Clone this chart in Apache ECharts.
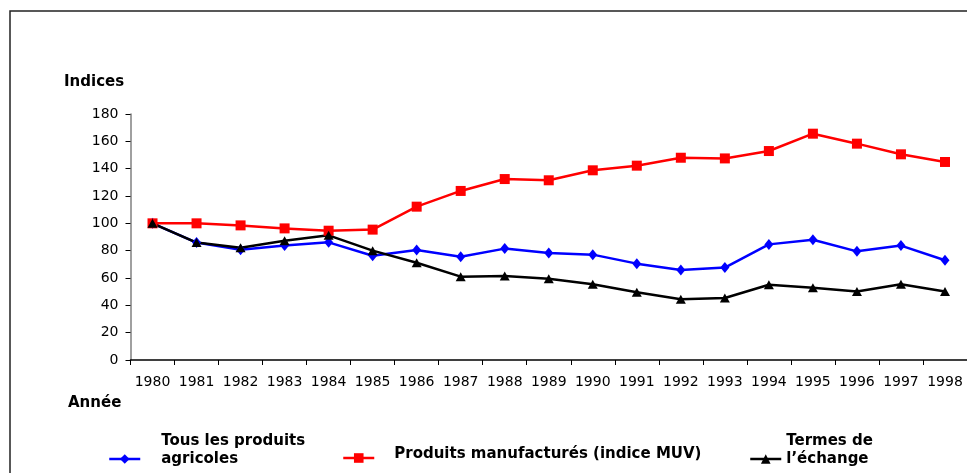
<!DOCTYPE html>
<html>
<head>
<meta charset="utf-8">
<script src="https://cdn.jsdelivr.net/npm/echarts@6/dist/echarts.min.js"></script>
<style>
    html, body { margin: 0; padding: 0; background: #fff; }
    #chart { width: 967px; height: 473px; }
</style>
</head>
<body>
<div id="chart"></div>
<script>
// années (axe des x)
var annees = ['1980','1981','1982','1983','1984','1985','1986','1987','1988','1989',
              '1990','1991','1992','1993','1994','1995','1996','1997','1998'];
// Tous les produits agricoles
var agricoles = [100, 85.9, 80.7, 83.7, 86.1, 76.3, 80.5, 75.6, 81.5, 78.3,
                 77.1, 70.5, 65.9, 67.6, 84.6, 88, 79.5, 83.7, 73];
// Produits manufacturés (indice MUV)
var manufactures = [100, 100, 98.5, 96.3, 94.6, 95.4, 112.2, 123.7, 132.4, 131.5,
                    138.8, 142.2, 148, 147.5, 152.9, 165.6, 158.3, 150.5, 144.9];
// Termes de l'échange
var termes = [100, 85.9, 82.2, 87.3, 91.2, 80, 71.2, 61, 61.5, 59.5,
              55.4, 49.5, 44.4, 45.4, 55.1, 52.9, 50.2, 55.4, 50.2];

var nomAgri = 'Tous les produits agricoles';
var nomManu = 'Produits manufacturés (indice MUV)';
var nomTermes = 'Termes de l\u2019échange';

var police = 'DejaVu Sans';

function texteLegende(gauche) {
    return {
        fontFamily: police, fontWeight: 'bold', fontSize: 15, color: '#000', lineHeight: 18,
        padding: [0, 0, 0, gauche],
        rich: {
            t: { fontFamily: police, fontWeight: 'bold', fontSize: 15, color: '#000', lineHeight: 18 },
            s: { fontSize: 1, lineHeight: 8 }
        }
    };
}

var myChart = echarts.init(document.getElementById('chart'));
myChart.setOption({
    animation: false,
    backgroundColor: '#fff',
    title: [
        { text: 'Indices', left: 64, top: 75, padding: 0,
          textStyle: { fontFamily: police, fontWeight: 'bold', fontSize: 15, color: '#000' } },
        { text: 'Année', left: 68, top: 396, padding: 0,
          textStyle: { fontFamily: police, fontWeight: 'bold', fontSize: 15, color: '#000' } }
    ],
    // cadre
    graphic: [{
        type: 'rect',
        shape: { x: 10, y: 11, width: 1000, height: 500 },
        style: { fill: 'none', stroke: '#222', lineWidth: 1.5 },
        silent: true
    }],
    legend: [
        { data: [nomAgri], left: 108, top: 432, padding: 0, itemWidth: 31, itemHeight: 12,
          lineStyle: { width: 2.5 },
          formatter: function () { return 'Tous les produits\nagricoles\n '; },
          textStyle: texteLegende(16) },
        { data: [nomManu], left: 342, top: 445, padding: 0, itemWidth: 31, itemHeight: 12,
          lineStyle: { width: 2.5 },
          formatter: function (n) { return '{t|' + n + '}\n{s| }'; },
          textStyle: texteLegende(15) },
        { data: [nomTermes], left: 749, top: 432, padding: 0, itemWidth: 31, itemHeight: 12,
          lineStyle: { width: 2.5 },
          formatter: function () { return 'Termes de\nl\u2019échange\n '; },
          textStyle: texteLegende(0) }
    ],
    grid: { left: 130.5, right: -2, top: 114, bottom: 113, containLabel: false },
    xAxis: {
        type: 'category',
        data: annees,
        boundaryGap: true,
        axisLine: { lineStyle: { color: '#000', width: 1.5 } },
        axisTick: { show: true, length: 5, alignWithLabel: false, lineStyle: { color: '#000' } },
        axisLabel: { interval: 0, margin: 15, fontFamily: police, fontSize: 14, color: '#000' },
        splitLine: { show: false }
    },
    yAxis: {
        type: 'value',
        min: 0,
        max: 180,
        interval: 20,
        axisLine: { show: true, lineStyle: { color: '#808080', width: 1.5 } },
        axisTick: { show: true, length: 5, lineStyle: { color: '#000' } },
        axisLabel: { margin: 12, fontFamily: police, fontSize: 14, color: '#000' },
        splitLine: { show: false }
    },
    series: [
        {
            name: nomAgri, type: 'line', data: agricoles,
            symbol: 'diamond', symbolSize: [9, 11],
            lineStyle: { color: '#0000ff', width: 2.5 },
            itemStyle: { color: '#0000ff' }
        },
        {
            name: nomManu, type: 'line', data: manufactures,
            symbol: 'rect', symbolSize: 10,
            lineStyle: { color: '#ff0000', width: 2.5 },
            itemStyle: { color: '#ff0000' }
        },
        {
            name: nomTermes, type: 'line', data: termes,
            symbol: 'triangle', symbolSize: [10, 9],
            lineStyle: { color: '#000', width: 2.5 },
            itemStyle: { color: '#000' }
        }
    ]
});
</script>
</body>
</html>
